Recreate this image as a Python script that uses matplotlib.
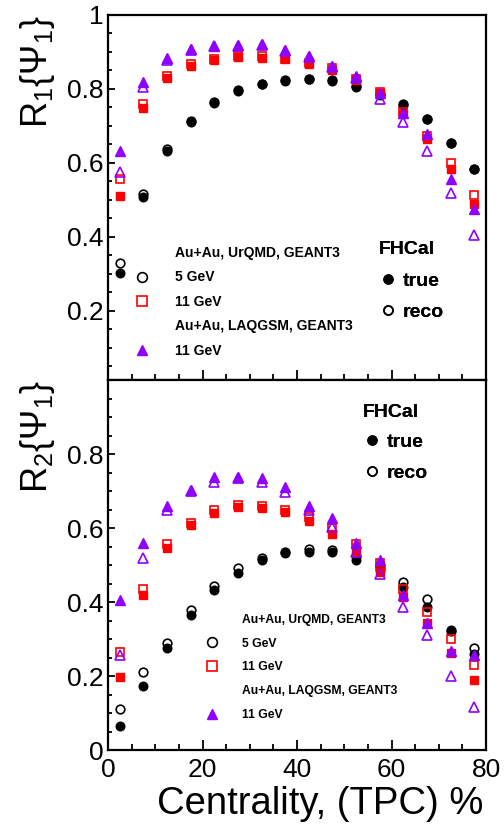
import matplotlib
matplotlib.use("Agg")
import matplotlib.pyplot as plt
from matplotlib.lines import Line2D
from matplotlib.ticker import MultipleLocator, FixedLocator, FuncFormatter

plt.rcParams['font.family'] = ['Liberation Sans', 'DejaVu Sans']
plt.rcParams['mathtext.fontset'] = 'custom'
plt.rcParams['mathtext.rm'] = 'Liberation Sans'
plt.rcParams['mathtext.it'] = 'Liberation Sans:italic'
plt.rcParams['mathtext.bf'] = 'Liberation Sans:bold'

# ---- data ----
cent = [2.5, 7.5, 12.5, 17.5, 22.5, 27.5, 32.5, 37.5, 42.5, 47.5, 52.5, 57.5, 62.5, 67.5, 72.5, 77.5]

# R1{Psi1}
r1_u5_true = [0.303, 0.507, 0.632, 0.710, 0.762, 0.794, 0.813, 0.822, 0.827, 0.822, 0.806, 0.785, 0.758, 0.718, 0.655, 0.584]
r1_u5_reco = [0.331, 0.515, 0.638, 0.714, 0.764, 0.796, 0.814, 0.823, 0.828, 0.823, 0.808, 0.786, 0.759, 0.718, 0.655, 0.584]
r1_u11_true = [0.511, 0.748, 0.829, 0.862, 0.878, 0.886, 0.885, 0.880, 0.867, 0.851, 0.824, 0.788, 0.732, 0.664, 0.583, 0.489]
r1_u11_reco = [0.557, 0.759, 0.835, 0.868, 0.882, 0.889, 0.888, 0.882, 0.870, 0.856, 0.826, 0.791, 0.738, 0.673, 0.599, 0.514]
r1_laq_true = [0.632, 0.820, 0.883, 0.908, 0.917, 0.919, 0.921, 0.905, 0.889, 0.863, 0.835, 0.788, 0.734, 0.678, 0.556, 0.475]
r1_laq_reco = [0.577, 0.805, 0.878, 0.905, 0.915, 0.917, 0.918, 0.903, 0.886, 0.860, 0.830, 0.774, 0.710, 0.633, 0.520, 0.405]

# R2{Psi1}
r2_u5_true = [0.065, 0.173, 0.276, 0.365, 0.432, 0.479, 0.514, 0.532, 0.536, 0.534, 0.514, 0.487, 0.441, 0.387, 0.324, 0.259]
r2_u5_reco = [0.110, 0.212, 0.290, 0.378, 0.443, 0.493, 0.520, 0.536, 0.543, 0.541, 0.523, 0.495, 0.455, 0.407, 0.322, 0.276]
r2_u11_true = [0.196, 0.419, 0.545, 0.608, 0.641, 0.656, 0.655, 0.643, 0.620, 0.583, 0.536, 0.482, 0.413, 0.342, 0.261, 0.189]
r2_u11_reco = [0.265, 0.435, 0.556, 0.614, 0.648, 0.662, 0.660, 0.650, 0.631, 0.601, 0.556, 0.505, 0.434, 0.372, 0.299, 0.230]
r2_laq_true = [0.405, 0.560, 0.659, 0.703, 0.737, 0.737, 0.736, 0.710, 0.659, 0.628, 0.560, 0.514, 0.419, 0.342, 0.268, 0.257]
r2_laq_reco = [0.257, 0.520, 0.650, 0.700, 0.725, 0.735, 0.724, 0.698, 0.650, 0.604, 0.536, 0.475, 0.387, 0.311, 0.200, 0.117]

top_yticks = [0.2, 0.4, 0.6, 0.8, 1.0]
bot_yticks = [0.0, 0.2, 0.4, 0.6, 0.8]
xticks = [0, 20, 40, 60, 80]

BLACK = 'black'
RED = '#ff0000'
VIOL = '#8f00ff'

W, H = 504, 827
fig = plt.figure(figsize=(W / 100, H / 100), dpi=100)

ax1 = fig.add_axes([108 / W, 1 - 380 / H, 378 / W, 365 / H])
ax2 = fig.add_axes([108 / W, 1 - 750 / H, 378 / W, 370 / H])

def fmt(v, pos):
    return ('%g' % round(v, 3))

def style(ax, yticks, ylim, show_xlabels):
    ax.set_xlim(0, 80)
    ax.set_ylim(*ylim)
    ax.xaxis.set_major_locator(FixedLocator(xticks))
    ax.xaxis.set_minor_locator(MultipleLocator(5))
    ax.yaxis.set_major_locator(FixedLocator(yticks))
    ax.yaxis.set_minor_locator(MultipleLocator(0.05))
    ax.yaxis.set_major_formatter(FuncFormatter(fmt))
    ax.xaxis.set_major_formatter(FuncFormatter(fmt))
    ax.tick_params(axis='both', which='both', direction='in', top=False, right=False, width=1.3)
    ax.tick_params(axis='y', which='major', length=5, labelsize=19, pad=3)
    ax.tick_params(axis='y', which='minor', length=3)
    ax.tick_params(axis='x', which='major', length=7, labelsize=19, pad=6)
    ax.tick_params(axis='x', which='minor', length=4)
    if not show_xlabels:
        ax.tick_params(axis='x', labelbottom=False)
    for s in ax.spines.values():
        s.set_linewidth(1.6)

def draw(ax, u5t, u5r, u11t, u11r, lt, lr):
    ax.plot(cent, u5t, ls='none', marker='o', ms=6.2, color=BLACK, mec=BLACK)
    ax.plot(cent, u5r, ls='none', marker='o', ms=6.2, mfc='none', mec=BLACK, mew=1.2)
    ax.plot(cent, u11t, ls='none', marker='s', ms=6.2, color=RED, mec=RED)
    ax.plot(cent, u11r, ls='none', marker='s', ms=6.2, mfc='none', mec=RED, mew=1.2)
    ax.plot(cent, lt, ls='none', marker='^', ms=7, color=VIOL, mec=VIOL)
    ax.plot(cent, lr, ls='none', marker='^', ms=7, mfc='none', mec=VIOL, mew=1.2)

style(ax1, top_yticks, (0.0135, 1.0), False)
style(ax2, bot_yticks, (0.0, 1.0), True)
draw(ax1, r1_u5_true, r1_u5_reco, r1_u11_true, r1_u11_reco, r1_laq_true, r1_laq_reco)
draw(ax2, r2_u5_true, r2_u5_reco, r2_u11_true, r2_u11_reco, r2_laq_true, r2_laq_reco)

ax1.set_ylabel(r'R$_{1}${Ψ$_{1}$}', fontsize=26, loc='top')
ax1.yaxis.set_label_coords(-0.135, 1.0)
ax2.set_ylabel(r'R$_{2}${Ψ$_{1}$}', fontsize=26, loc='top')
ax2.yaxis.set_label_coords(-0.135, 1.0)
ax2.set_xlabel('Centrality, (TPC) %', fontsize=27.5, loc='right')
ax2.xaxis.set_label_coords(0.993, -0.097)

def blank():
    return Line2D([], [], ls='none', marker=None)

def model_legend(ax, fs, ms, anchor, tpad, spacing):
    handles = [blank(),
               Line2D([], [], ls='none', marker='o', ms=ms, mfc='none', mec=BLACK, mew=1.2),
               Line2D([], [], ls='none', marker='s', ms=ms - 0.5, mfc='none', mec=RED, mew=1.2),
               blank(),
               Line2D([], [], ls='none', marker='^', ms=ms - 0.5, color=VIOL, mec=VIOL)]
    labels = ['Au+Au, UrQMD, GEANT3', '5 GeV', '11 GeV', 'Au+Au, LAQGSM, GEANT3', '11 GeV']
    leg = ax.legend(handles, labels, loc='upper left', bbox_to_anchor=anchor,
                    frameon=False, prop={'weight': 'bold', 'size': fs},
                    handlelength=1.0, handletextpad=tpad, borderpad=0, borderaxespad=0,
                    labelspacing=spacing)
    ax.add_artist(leg)

def det_legend(ax, anchor, spacing):
    handles = [Line2D([], [], ls='none', marker='o', ms=6.5, color=BLACK),
               Line2D([], [], ls='none', marker='o', ms=6.5, mfc='none', mec=BLACK, mew=1.2)]
    leg = ax.legend(handles, ['true', 'reco'], loc='upper left', bbox_to_anchor=anchor,
                    frameon=False, prop={'weight': 'bold', 'size': 14},
                    title='FHCal', title_fontproperties={'weight': 'bold', 'size': 14},
                    alignment='left', handlelength=0.93, handletextpad=0.3,
                    borderpad=0, borderaxespad=0, labelspacing=spacing)
    ax.add_artist(leg)

# top panel legends (positions in axes fraction)
model_legend(ax1, 10, 7, ((135 - 108) / 378, (380 - 246) / 365), 1.88, 0.75)
det_legend(ax1, ((379 - 108) / 378, (380 - 241) / 365), 0.72)
# bottom panel legends
model_legend(ax2, 8.7, 7, ((206 - 108) / 378, (750 - 614) / 370), 1.95, 0.97)
det_legend(ax2, ((363 - 108) / 378, (750 - 404) / 370), 0.65)

fig.savefig('out.png', dpi=100)
